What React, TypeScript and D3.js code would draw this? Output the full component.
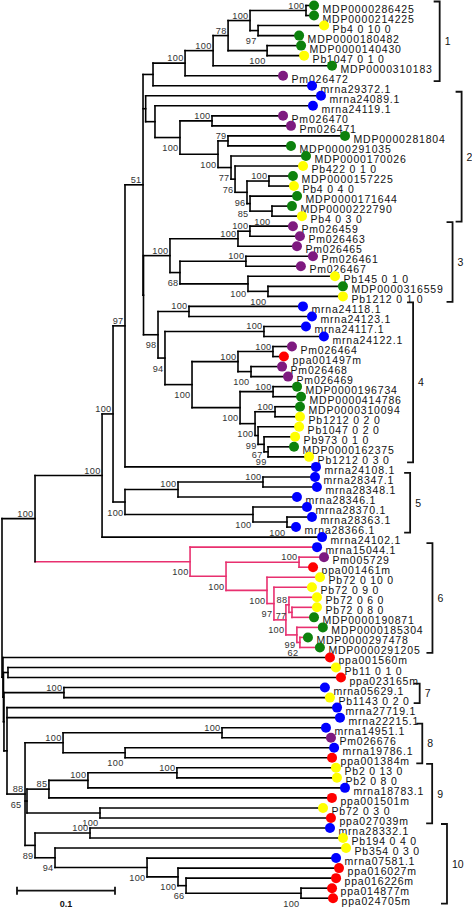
import React, { useMemo } from 'react';
import * as d3 from 'd3';

const W = 472;
const H = 909;

// ---- tree data (Newick pieces, branch lengths in substitutions/site) ----
const CLADE_F = `((((('MDP0000286425':0.0041,'MDP0000214225':0.0041)A:0.0571,('Pb4 0 10 0':0.0633,'MDP0000180482':0.0378)C:0.0082)B:0.0224,('MDP0000140430':0.0306,'Pb1047 0 1 0':0.0337)D:0.0398)N78:0.0153,'MDP0000310183':0.1173)E:0.0286,'Pm026472':0.0959)F:0.0327`;
const CLADE_G = `(${CLADE_F},'mrna29372.1':0.1582)G:0.0102`;
const CLADE_S = `('MDP0000171644':0.0439,('MDP0000222790':0.0163,'Pb4 0 3 0':0.0265)Q:0.0224)S:0.0031`;
const CLADE_M = `('MDP0000170026':0.0724,('Pb422 0 1 0':0.0653,(('MDP0000157225':0.0204,'Pb4 0 4 0':0.0214)P:0.0224,${CLADE_S})M3:0.0122)M2:0.0041)M:0.0133`;
const CLADE_HN = `('mrna24089.1':0.1748,('mrna24119.1':0.1571,(('Pm026470':0.0684,'Pm026471':0.0765)K:0.0327,(('MDP0000281804':0.1153,'MDP0000291035':0.0602)N79:0.0102,${CLADE_M})L:0.0388)J:0.0255)I:0.0095)Hn:0.0027`;
const CLADE_Z3 = `((('Pm026459':0.0398,'Pm026463':0.0469)Z1:0.0122,'Pm026465':0.0561)Z2:0.0694,(('Pm026461':0.0643,'Pm026467':0.0520)Z5:0.0673,('Pb145 0 1 0':0.0847,('MDP0000316559':0.0724,'Pb1212 0 1 0':0.0724)Z7:0.0204)Z6:0.0694)Z4:0.0102)Z3:0.0270`;
const CLADE_W11 = `(('MDP0000196734':0.0204,'MDP0000414786':0.0245)W12:0.0337,(('MDP0000310094':0.0214,'Pb1212 0 2 0':0.0214)W13:0.0204,('Pb1047 0 2 0':0.0378,('Pb973 0 1 0':0.0276,('MDP0000162375':0.0224,'Pb1212 0 3 0':0.0378)W17:0.0041)W16:0.0061)W15:0.0031)W14:0.0153)W11:0.0490`;
const CLADE_W10 = `((('Pm026464':0.0153,'ppa001497m':0.0071)W7:0.0357,('Pm026468':0.0276,'Pm026469':0.0337)W8:0.0133)W9:0.0469,${CLADE_W11})W10:0.0276`;
const CLADE_W4 = `(('mrna24118.1':0.1122,'mrna24123.1':0.1214)W1:0.0316,(('mrna24117.1':0.0388,'mrna24122.1':0.0571)W2:0.1010,${CLADE_W10})W5:0.0071)W4:0.0148`;
const CLADE_H = `(${CLADE_G},${CLADE_HN},(${CLADE_Z3},${CLADE_W4})Hb:0.0005)H:0.0184`;
const CLADE_R1 = `((('mrna28347.1':0.0490,'mrna28348.1':0.0510)R4:0.0867,'mrna28346.1':0.1173)R2:0.0541,('mrna28370.1':0.0510,('mrna28363.1':0.0214,'mrna28366.1':0.0051)R5:0.0347)R3:0.1306)R1:0.0122`;
const CLADE_P1 = `(((${CLADE_H},'mrna24108.1':0.1908)N125:0.0122,${CLADE_R1})Q1:0.0112,'mrna24102.1':0.2204)P1:0.0684`;
const CLADE_G1 = `('mrna15044.1':0.1255,(('Pm005729':0.0214,'ppa001461m':0.0102)G3:0.0745,('Pb72 0 10 0':0.0500,('Pb72 0 9 0':0.0347,(('Pb72 0 6 0':0.0245,('Pb72 0 8 0':0.0214,'MDP0000190871':0.0184)G7:0.0031)G6a:0.0031,('MDP0000185304':0.0224,('MDP0000297478':0.0041,'MDP0000291205':0.0163)G9:0.0031)G8:0.0112)G6:0.0122)G5:0.0071)G4:0.0418)G2:0.0367)G1:0.1582`;
const CLADE_S1 = `(${CLADE_P1},${CLADE_G1})S1:0.0337`;
const CLADE_V3 = `(('mrna14951.1':0.1020,'Pm026676':0.1071)V1:0.1622,('mrna19786.1':0.2092,'ppa001384m':0.2071)V2:0.0633)V3:0.0388`;
const CLADE_X5 = `(((('Pb2 0 13 0':0.1582,'Pb2 0 8 0':0.1592)X1:0.0908,'mrna18783.1':0.2582)X2:0.0398,'ppa001501m':0.2847)X3:0.0224,('Pb72 0 3 0':0.2235,'ppa027039m':0.2316)X4:0.0745)X5:0.0020`;
const CLADE_B7 = `(('mrna28332.1':0.2408,'Pb194 0 4 0':0.2541)B1:0.0561,('Pb354 0 3 0':0.2929,('mrna07581.1':0.1888,('ppa016027m':0.1602,('ppa016226m':0.1490,('ppa014877m':0.0276,'ppa024705m':0.0286)B5:0.1173)B4:0.0082)B3:0.0316)B2:0.0939)B6:0.0204)B7:0.0102`;
const CLADE_Y1 = `('mrna27719.1':0.3327,'mrna22215.1':0.3357,(${CLADE_V3},${CLADE_X5},${CLADE_B7})V4:0.0184)Y1:0.0031`;
const CLADE_T1 = `('ppa001560m':0.3296,(('Pb11 0 1 0':0.3306,'ppa023165m':0.3357)U1:0.0046,(('mrna05629.1':0.2622,'Pb1143 0 2 0':0.2673)U2:0.0612,${CLADE_Y1})T3:0.0005)T2:0.0005)T1:0.0010`;
const TREE = `(${CLADE_S1},${CLADE_T1})R0;`;

// bootstrap support per internal node
const BOOTSTRAP: Record<string, number> = {
  A: 100, C: 97, B: 100, D: 100, N78: 78, E: 100, F: 100,
  K: 100, N79: 79, P: 100, Q: 100, S: 85, M3: 96, M2: 76, M: 77, L: 100, J: 100,
  Z1: 100, Z2: 100, Z5: 100, Z7: 100, Z6: 100, Z4: 68, Z3: 100,
  W1: 100, W2: 100, W7: 100, W8: 100, W9: 100, W12: 100, W13: 100, W17: 99, W16: 67, W15: 99,
  W14: 100, W11: 100, W10: 100, W5: 94, W4: 98, H: 51, N125: 97,
  R4: 100, R2: 100, R5: 100, R3: 100, R1: 100, Q1: 100, P1: 100,
  G3: 100, G6a: 88, G7: 77, G6: 100, G8: 99, G9: 62, G5: 97, G4: 100, G2: 100, G1: 100, S1: 100,
  U2: 100, V1: 100, V2: 100, V3: 100, X1: 100, X2: 100, X3: 85, X4: 100, X5: 65,
  B1: 100, B5: 100, B4: 66, B3: 100, B2: 100, B6: 94, B7: 89, V4: 88,
};

// species by gene-id prefix
const SPECIES_PREFIX = ['MDP', 'Pb', 'Pm', 'mrna', 'ppa'];
const SPECIES_COLOR = ['#0d820d', '#ffff00', '#7e1a80', '#0000ff', '#ff0000'];

// subfamily groups: label, first leaf, last leaf
const GROUP_LABELS = ['1', '2', '3', '4', '5', '6', '7', '8', '9', '10'];
const GROUP_FIRST = ['MDP0000286425', 'mrna24089.1', 'Pm026459', 'mrna24118.1', 'mrna28347.1', 'mrna15044.1', 'mrna05629.1', 'mrna14951.1', 'Pb2 0 13 0', 'mrna28332.1'];
const GROUP_LAST = ['Pm026472', 'Pb4 0 3 0', 'Pb1212 0 1 0', 'Pb1212 0 3 0', 'mrna28366.1', 'MDP0000291205', 'Pb1143 0 2 0', 'ppa001384m', 'ppa027039m', 'ppa024705m'];

const HIGHLIGHT_CLADES = ['G1'];
const SCALE_BAR_VALUE = 0.1;

// ---- layout / style ----
const LABEL_BELOW = new Set(['C', 'D', 'J', 'L', 'M', 'M2', 'M3', 'S', 'Q', 'Z4', 'Z6', 'Z7', 'W4', 'W5', 'W8', 'W10', 'W11', 'W14', 'W15', 'W16', 'W17', 'R1', 'R3', 'R5', 'G1', 'G2', 'G4', 'G5', 'G6', 'G8', 'G9', 'X4', 'V2', 'B2', 'B3', 'B4', 'B5', 'B6', 'B7']);
const LABEL_MID = new Set(['G7', 'X5']);
const BRACKET_PAD = [7, 16, 9, 10, 14, 9, 10, 9, 8, 27];
const FONT = '"Liberation Sans", Arial, Helvetica, sans-serif';
const LEAF_FS = 10.5;
const LEAF_LS = 0.8;
const BS_FS = 9.2;
const PINK = '#e8306f';

type NNode = { name: string; length: number; children: NNode[] };

function parseNewick(s: string): NNode {
  let i = 0;
  const ws = () => { while (i < s.length && /\s/.test(s[i])) i++; };
  const node = (): NNode => {
    ws();
    const n: NNode = { name: '', length: 0, children: [] };
    if (s[i] === '(') {
      i++;
      n.children.push(node());
      ws();
      while (s[i] === ',') { i++; n.children.push(node()); ws(); }
      i++; // ')'
    }
    ws();
    if (s[i] === "'") {
      const j = s.indexOf("'", i + 1);
      n.name = s.slice(i + 1, j);
      i = j + 1;
    } else {
      const m = /^[^:,();\s]*/.exec(s.slice(i))![0];
      n.name = m;
      i += m.length;
    }
    ws();
    if (s[i] === ':') {
      i++;
      const m = /^[0-9.eE+-]+/.exec(s.slice(i))![0];
      n.length = parseFloat(m);
      i += m.length;
    }
    return n;
  };
  return node();
}

function speciesColor(name: string) {
  for (let k = 0; k < SPECIES_PREFIX.length; k++) if (name.startsWith(SPECIES_PREFIX[k])) return SPECIES_COLOR[k];
  return '#000';
}

let ctx: CanvasRenderingContext2D | null = null;
function textWidth(t: string) {
  if (!ctx) ctx = document.createElement('canvas').getContext('2d');
  ctx!.font = `${LEAF_FS}px ${FONT}`;
  return ctx!.measureText(t).width + LEAF_LS * t.length;
}

function labelPos(n: any): [number, number] {
  const id = n.data.name;
  if (LABEL_MID.has(id)) return [n.px - 5.5, n.py + 7];
  if (LABEL_BELOW.has(id)) return [n.px - 1.5, n.py + 13.5];
  return [n.px - 1.5, n.py - 2];
}

export default function App() {
  const L = useMemo(() => {
    const root: any = d3.hierarchy(parseNewick(TREE), (d: NNode) => (d.children.length ? d.children : null));
    root.each((n: any) => { n.dist = n.parent ? n.parent.dist + n.data.length : 0; });
    const leaves = root.leaves();
    const x = d3.scaleLinear().domain([0, SCALE_BAR_VALUE]).range([2, 100]);
    const y = d3.scaleLinear().domain([0, leaves.length - 1]).range([5.5, 898.2]);
    leaves.forEach((l: any, k: number) => { l.py = y(k); });
    root.eachAfter((n: any) => {
      n.px = x(n.dist);
      if (n.children) n.py = (n.children[0].py + n.children[n.children.length - 1].py) / 2;
    });
    root.each((n: any) => {
      n.hl = HIGHLIGHT_CLADES.includes(n.data.name) || (n.parent ? n.parent.hl : false);
    });
    const nodes = root.descendants();
    const byName = new Map<string, any>();
    leaves.forEach((l: any) => byName.set(l.data.name, l));
    const groups = GROUP_LABELS.map((g, k) => {
      const a = byName.get(GROUP_FIRST[k]);
      const b = byName.get(GROUP_LAST[k]);
      const ia = leaves.indexOf(a), ib = leaves.indexOf(b);
      let maxEnd = 0;
      for (let j = ia; j <= ib; j++) {
        const lf = leaves[j];
        maxEnd = Math.max(maxEnd, lf.px + 4 + 8.5 + textWidth(lf.data.name));
      }
      return { label: g, x: maxEnd + BRACKET_PAD[k], y0: a.py - 4, y1: b.py + 5.5 };
    });
    return { root, nodes, leaves, x, groups };
  }, []);

  const { nodes, leaves, x, groups } = L;
  const sbX0 = 17;
  const sbY = 890.7;
  const sbX1 = sbX0 + (x(SCALE_BAR_VALUE) - x(0));

  return (
    <svg width={W} height={H} style={{ position: 'absolute', left: 0, top: 0, background: '#fff' }} fontFamily={FONT}>
      <g strokeLinecap="square" fill="none" strokeWidth={1.6}>
        {nodes.filter((n: any) => n.parent).map((n: any, k: number) => (
          <line key={'h' + k} x1={n.parent.px} x2={n.px} y1={n.py} y2={n.py} stroke={n.hl ? PINK : '#000'} />
        ))}
        {nodes.filter((n: any) => n.children).map((n: any, k: number) => (
          <line key={'v' + k} x1={n.px} x2={n.px} y1={n.children[0].py} y2={n.children[n.children.length - 1].py} stroke={n.hl ? PINK : '#000'} />
        ))}
      </g>
      <g fontSize={BS_FS} fill="#333" textAnchor="end" letterSpacing={0.3}>
        {nodes.filter((n: any) => n.children && BOOTSTRAP[n.data.name] != null).map((n: any, k: number) => {
          const [lx, ly] = labelPos(n);
          return (
            <text key={'b' + k} x={lx} y={ly}>
              {BOOTSTRAP[n.data.name]}
            </text>
          );
        })}
      </g>
      <g>
        {leaves.map((l: any, k: number) => (
          <g key={'l' + k}>
            <circle cx={l.px + 4} cy={l.py} r={5} fill={speciesColor(l.data.name)} />
            <text x={l.px + 12.5} y={l.py + 7} fontSize={LEAF_FS} letterSpacing={LEAF_LS} fill="#111">{l.data.name}</text>
          </g>
        ))}
      </g>
      <g stroke="#111" strokeWidth={1.8} fill="none">
        {groups.map((g: any, k: number) => (
          <path key={'g' + k} d={`M${g.x - 6},${g.y0}H${g.x}V${g.y1}H${g.x - 6}`} />
        ))}
      </g>
      <g fontSize={LEAF_FS} fill="#111">
        {groups.map((g: any, k: number) => (
          <text key={'gl' + k} x={g.x + 5} y={(g.y0 + g.y1) / 2 + 4}>{g.label}</text>
        ))}
      </g>
      <g stroke="#111" strokeWidth={1.8}>
        <line x1={sbX0} x2={sbX1} y1={sbY} y2={sbY} />
        <line x1={sbX0} x2={sbX0} y1={sbY - 4} y2={sbY + 4} />
        <line x1={sbX1} x2={sbX1} y1={sbY - 4} y2={sbY + 4} />
      </g>
      <text x={(sbX0 + sbX1) / 2} y={sbY + 16} fontSize={9} fontWeight="bold" textAnchor="middle" fill="#111">
        {SCALE_BAR_VALUE}
      </text>
    </svg>
  );
}
